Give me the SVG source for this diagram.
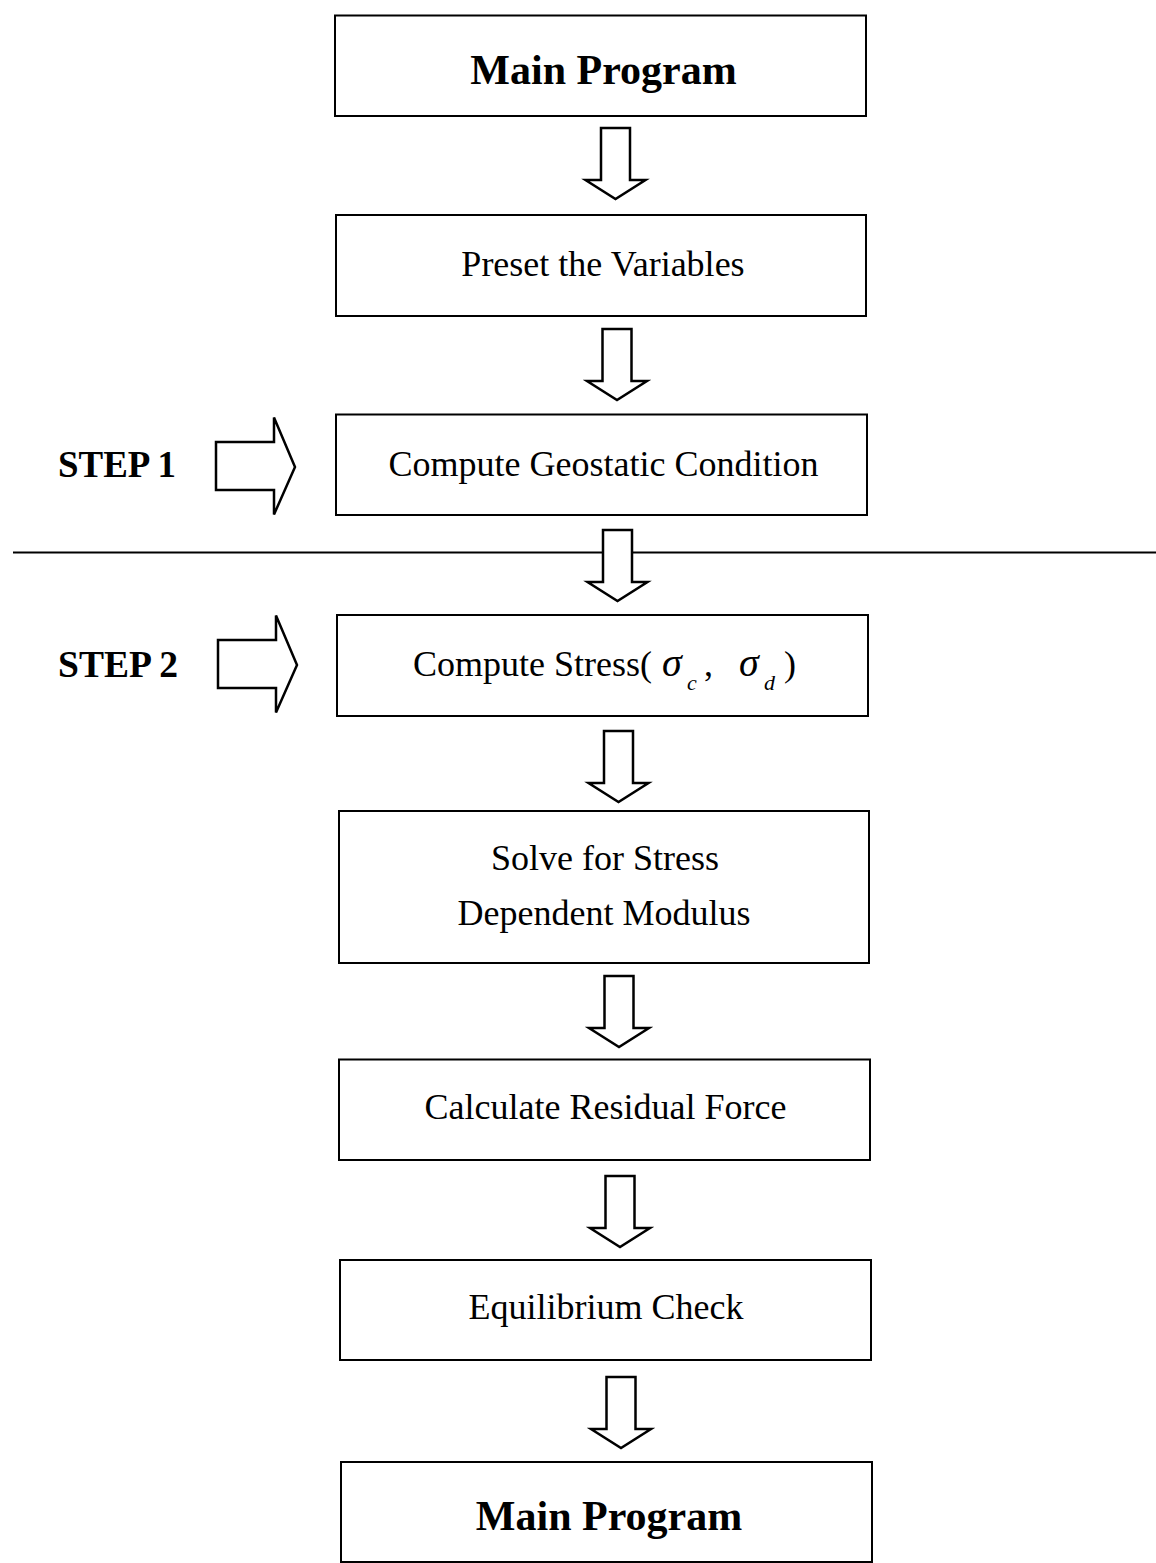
<svg xmlns="http://www.w3.org/2000/svg" xmlns:xlink="http://www.w3.org/1999/xlink" width="1156" height="1563" viewBox="0 0 1156 1563">
  <style>
    .box { fill: #ffffff; stroke: #000000; stroke-width: 2; }
    .arrow { fill: #ffffff; stroke: #000000; stroke-width: 2.5; stroke-linejoin: miter; }
    .divider { stroke: #000000; stroke-width: 2; }
    .lbl { font-family: "Liberation Serif", "Times New Roman", serif; font-size: 36px; fill: #000000; text-anchor: middle; }
    .title { font-family: "Liberation Serif", "Times New Roman", serif; font-size: 42px; font-weight: bold; fill: #000000; text-anchor: middle; }
    .step { font-family: "Liberation Serif", "Times New Roman", serif; font-size: 38px; font-weight: bold; fill: #000000; }
    .math { font-family: "Liberation Serif", "Times New Roman", serif; font-style: italic; fill: #000000; }
  </style>
  <defs>
    <!-- hollow block arrow pointing down, origin at top centre of the shaft -->
    <path id="down-arrow" d="M -14.5 0 L 14.5 0 L 14.5 52 L 30 52 L 0 71 L -30 52 L -14.5 52 Z"/>
    <!-- hollow block arrow pointing right, origin at left centre of the shaft -->
    <path id="right-arrow" d="M 0 -24 L 58 -24 L 58 -48.5 L 79 1 L 58 48.5 L 58 24 L 0 24 Z"/>
  </defs>

  <rect width="1156" height="1563" fill="#ffffff"/>

  <!-- separator between step 1 and step 2 -->
  <line class="divider" x1="13" y1="552.5" x2="1156" y2="552.5"/>

  <g id="connectors">
    <use href="#down-arrow" class="arrow" transform="translate(615.5,128)"/>
    <use href="#down-arrow" class="arrow" transform="translate(617,329)"/>
    <use href="#down-arrow" class="arrow" transform="translate(617.5,530)"/>
    <use href="#down-arrow" class="arrow" transform="translate(618.5,731)"/>
    <use href="#down-arrow" class="arrow" transform="translate(619,976)"/>
    <use href="#down-arrow" class="arrow" transform="translate(620,1176)"/>
    <use href="#down-arrow" class="arrow" transform="translate(621,1377)"/>
    <use href="#right-arrow" class="arrow" transform="translate(216,466)"/>
    <use href="#right-arrow" class="arrow" transform="translate(218,664)"/>
  </g>

  <g id="step1-label">
    <text class="step" x="58" y="477" textLength="118" lengthAdjust="spacingAndGlyphs">STEP 1</text>
  </g>
  <g id="step2-label">
    <text class="step" x="58" y="677" textLength="120" lengthAdjust="spacingAndGlyphs">STEP 2</text>
  </g>

  <g id="main-program-start">
    <rect class="box" x="335" y="15.5" width="531" height="100.5"/>
    <text class="title" x="603.5" y="84">Main Program</text>
  </g>

  <g id="preset-variables">
    <rect class="box" x="336" y="215" width="530" height="101"/>
    <text class="lbl" x="603" y="276">Preset the Variables</text>
  </g>

  <g id="geostatic-condition">
    <rect class="box" x="336" y="414.5" width="531" height="100.5"/>
    <text class="lbl" x="603.5" y="476">Compute Geostatic Condition</text>
  </g>

  <g id="compute-stress">
    <rect class="box" x="337" y="615" width="531" height="101"/>
    <text class="lbl" x="413" y="676" style="text-anchor:start">Compute Stress(</text>
    <text class="math" x="662" y="676" font-size="40">σ</text>
    <text class="math" x="687" y="690" font-size="22">c</text>
    <text class="lbl" x="704" y="676" style="text-anchor:start">,</text>
    <text class="math" x="739" y="676" font-size="40">σ</text>
    <text class="math" x="764" y="690" font-size="22">d</text>
    <text class="lbl" x="784" y="676" style="text-anchor:start">)</text>
  </g>

  <g id="stress-dependent-modulus">
    <rect class="box" x="339" y="811" width="530" height="152"/>
    <text class="lbl" x="605" y="870">Solve for Stress</text>
    <text class="lbl" x="604" y="925">Dependent Modulus</text>
  </g>

  <g id="residual-force">
    <rect class="box" x="339" y="1059.5" width="531" height="100.5"/>
    <text class="lbl" x="605.5" y="1119">Calculate Residual Force</text>
  </g>

  <g id="equilibrium-check">
    <rect class="box" x="340" y="1260" width="531" height="100"/>
    <text class="lbl" x="606" y="1319">Equilibrium Check</text>
  </g>

  <g id="main-program-end">
    <rect class="box" x="341" y="1462" width="531" height="100"/>
    <text class="title" x="609" y="1530">Main Program</text>
  </g>
</svg>
